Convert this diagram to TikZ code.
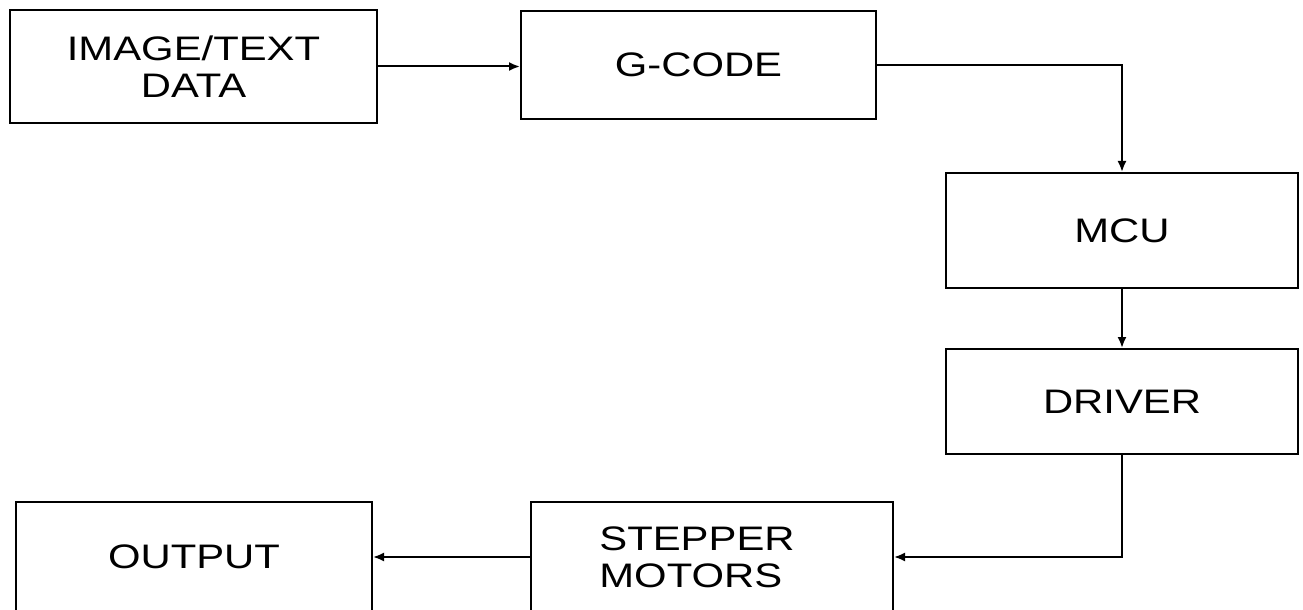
\documentclass[tikz,border=0pt]{standalone}
\usepackage{fontspec}
\setmainfont{Liberation Sans}[FakeStretch=1.23]
\usetikzlibrary{arrows.meta}
\begin{document}
\begin{tikzpicture}[x=0.5pt,y=-0.5pt,line width=1pt,>={Latex[length=5.5pt,width=4.5pt]}]
		\useasboundingbox [fill=white] (0,0) rectangle (1303,610);
		\begin{scope}[every node/.style={rectangle,draw,align=center,inner sep=0pt,
			font=\fontsize{17}{18.5}\selectfont}]
		\node (data) at (193.5,66.5) [minimum width=183.5pt,minimum height=56.5pt]{IMAGE/TEXT\\DATA};
		\node (gcode) at (698.5,65) [minimum width=177.5pt,minimum height=54pt]{G-CODE};
		\node (mcu) at (1122,230.5) [minimum width=176pt,minimum height=57.5pt]{MCU};
		\node (driver) at (1122,401.5) [minimum width=176pt,minimum height=52.5pt]{DRIVER};
		\node (stepper) at (712,557) [minimum width=181pt,minimum height=55pt,align=left]{STEPPER\hspace*{15pt}\\MOTORS};
		\node (output) at (194,557) [minimum width=178pt,minimum height=55pt]{OUTPUT};
		\end{scope}
		
		\draw [->] (data.east) -- (data.east -| gcode.west);
		\draw [->] (gcode.east) -| (mcu.north);
		\draw [->] (mcu) -- (driver);
		\draw [->] (driver.south) |- (stepper.east);
		\draw [->] (stepper) -- (output);
		\end{tikzpicture}
\end{document}
